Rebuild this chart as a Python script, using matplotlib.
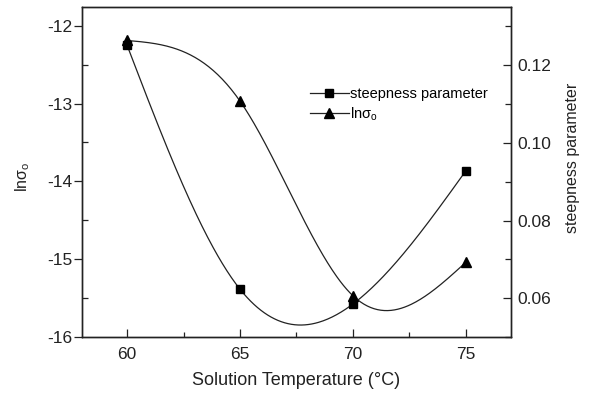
import numpy as np
import matplotlib
matplotlib.use("Agg")
import matplotlib.pyplot as plt
from matplotlib.ticker import MultipleLocator

plt.rcParams['font.family'] = ['Liberation Sans', 'DejaVu Sans']
plt.rcParams['mathtext.fontset'] = 'custom'
plt.rcParams['mathtext.rm'] = 'Liberation Sans'
plt.rcParams['mathtext.it'] = 'Liberation Sans'
plt.rcParams['axes.unicode_minus'] = False

# data
temperature = [60, 65, 70, 75]
ln_sigma = [-12.19, -12.97, -15.47, -15.04]
steepness = [0.1251, 0.0623, 0.0585, 0.0928]

INK = '#222222'


def natural_spline(x, y, n=300):
    # natural cubic spline through the points
    x = np.asarray(x, float)
    y = np.asarray(y, float)
    k = len(x)
    h = np.diff(x)
    A = np.zeros((k, k))
    b = np.zeros(k)
    A[0, 0] = A[-1, -1] = 1
    for i in range(1, k - 1):
        A[i, i - 1] = h[i - 1]
        A[i, i] = 2 * (h[i - 1] + h[i])
        A[i, i + 1] = h[i]
        b[i] = 6 * ((y[i + 1] - y[i]) / h[i] - (y[i] - y[i - 1]) / h[i - 1])
    m = np.linalg.solve(A, b)
    xs = np.linspace(x[0], x[-1], n)
    ys = np.empty_like(xs)
    for j, t in enumerate(xs):
        i = min(np.searchsorted(x, t, side='right') - 1, k - 2)
        a = x[i + 1] - t
        c = t - x[i]
        ys[j] = (m[i] * a**3 + m[i + 1] * c**3) / (6 * h[i]) \
            + (y[i] / h[i] - m[i] * h[i] / 6) * a \
            + (y[i + 1] / h[i] - m[i + 1] * h[i] / 6) * c
    return xs, ys


fig = plt.figure(figsize=(5.95, 3.93), dpi=100)
ax = fig.add_axes([0.1378, 0.1425, 0.721, 0.8397])
ax2 = ax.twinx()

xs, ys = natural_spline(temperature, ln_sigma)
ax.plot(xs, ys, color=INK, lw=0.9)
ax.plot(temperature, ln_sigma, ls='none', marker='^', color='black', ms=7)

xs2, ys2 = natural_spline(temperature, steepness)
ax2.plot(xs2, ys2, color=INK, lw=0.9)
ax2.plot(temperature, steepness, ls='none', marker='s', color='black', ms=5.5)

ax.set_xlim(58, 77)
ax.set_ylim(-16, -11.76)
ax2.set_ylim(0.05, 0.135)

ax.xaxis.set_major_locator(MultipleLocator(5))
ax.xaxis.set_minor_locator(MultipleLocator(2.5))
ax.yaxis.set_major_locator(MultipleLocator(1))
ax.yaxis.set_minor_locator(MultipleLocator(0.5))
ax2.yaxis.set_minor_locator(MultipleLocator(0.01))
ax2.set_yticks([0.06, 0.08, 0.10, 0.12])
ax2.set_yticklabels(['0.06', '0.08', '0.10', '0.12'])

# ticks: left major outward, everything else inward
ax.tick_params(axis='y', which='major', direction='out', length=6, width=0.9,
               pad=1, labelsize=12.5, color=INK, labelcolor=INK)
ax.tick_params(axis='y', which='minor', direction='in', length=4, width=0.9,
               color=INK)
ax.tick_params(axis='x', which='major', direction='in', length=6, width=0.9,
               pad=7, labelsize=12.5, color=INK, labelcolor=INK)
ax.tick_params(axis='x', which='minor', direction='in', length=3.5, width=0.9,
               color=INK)
ax2.tick_params(axis='y', which='major', direction='in', length=6, width=0.9,
                pad=4.5, labelsize=12.5, color=INK, labelcolor=INK)
ax2.tick_params(axis='y', which='minor', direction='in', length=4, width=0.9,
                color=INK)
for a in (ax, ax2):
    for s in a.spines.values():
        s.set_linewidth(1.0)
        s.set_color(INK)

ax.set_xlabel('Solution Temperature (°C)', fontsize=13, color=INK)
ax.xaxis.set_label_coords(0.5, -0.106)
ax.set_ylabel(r'ln$\sigma_\mathrm{o}$', fontsize=11.5, color=INK)
ax.yaxis.set_label_coords(-0.116, 0.486)
ax2.set_ylabel('steepness parameter', fontsize=11.5, color=INK)
ax2.yaxis.set_label_coords(1.126, 0.542)

h1, = ax.plot([], [], color=INK, lw=0.9, marker='s', ms=5.5,
              markerfacecolor='black', markeredgecolor='black')
h2, = ax.plot([], [], color=INK, lw=0.9, marker='^', ms=7,
              markerfacecolor='black', markeredgecolor='black')
ax.legend([h1, h2], ['steepness parameter', r'ln$\sigma_\mathrm{o}$'],
          loc='upper left', bbox_to_anchor=(0.531, 0.758), frameon=False,
          fontsize=10.5, handlelength=2.7, handletextpad=0.05,
          labelspacing=0.3, borderpad=0, borderaxespad=0)

fig.savefig('out.png', dpi=100)
